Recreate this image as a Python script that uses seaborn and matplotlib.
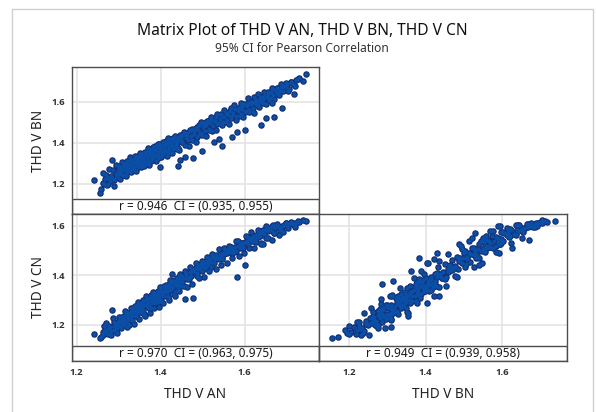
import matplotlib
matplotlib.use("Agg")
import matplotlib.pyplot as plt
import seaborn as sns
import pandas as pd
from matplotlib.patches import Rectangle

AN = [1.242, 1.256, 1.258, 1.262, 1.268, 1.272, 1.275, 1.280, 1.283, 1.285, 1.288, 1.290, 1.293, 1.296, 1.298, 1.300,
      1.302, 1.305, 1.307, 1.309, 1.311, 1.313, 1.315, 1.317, 1.319, 1.321, 1.323, 1.325, 1.327, 1.329, 1.331, 1.333,
      1.335, 1.337, 1.339, 1.341, 1.343, 1.345, 1.347, 1.349, 1.351, 1.353, 1.355, 1.357, 1.359, 1.361,
      1.363, 1.365, 1.367, 1.369, 1.371, 1.373, 1.375, 1.377, 1.379, 1.381, 1.383, 1.385, 1.387, 1.389, 1.391, 1.393,
      1.395, 1.397, 1.399, 1.401, 1.403, 1.405, 1.407, 1.409, 1.411, 1.413, 1.415, 1.417, 1.419, 1.421, 1.423, 1.425,
      1.428, 1.430, 1.432, 1.434, 1.436, 1.438, 1.440, 1.442, 1.444, 1.446, 1.448, 1.450,
      1.452, 1.455, 1.458, 1.460, 1.463, 1.466, 1.469, 1.472, 1.475, 1.478, 1.480, 1.483, 1.486, 1.489, 1.492, 1.495,
      1.498, 1.500, 1.503, 1.506, 1.509, 1.512, 1.515, 1.518, 1.521, 1.524, 1.526, 1.529, 1.532, 1.535, 1.538, 1.541,
      1.544, 1.546, 1.549, 1.552,
      1.555, 1.558, 1.561, 1.564, 1.567, 1.570, 1.573, 1.576, 1.579, 1.582, 1.585, 1.588, 1.591, 1.594, 1.597, 1.600,
      1.602, 1.605, 1.608, 1.611, 1.614, 1.617, 1.620, 1.622, 1.625, 1.628, 1.631, 1.634, 1.637, 1.638, 1.641, 1.644,
      1.647,
      1.650, 1.653, 1.656, 1.659, 1.662, 1.666, 1.668, 1.670, 1.673, 1.676, 1.680, 1.684, 1.688, 1.690, 1.694, 1.698,
      1.702, 1.706, 1.710, 1.714, 1.718, 1.722, 1.728, 1.746,
      1.262, 1.266, 1.270, 1.274, 1.278, 1.282, 1.286, 1.290, 1.294, 1.297,
      1.300, 1.303, 1.306, 1.309, 1.312, 1.315, 1.318, 1.321, 1.324, 1.327,
      1.330, 1.333, 1.336, 1.339, 1.342, 1.345, 1.348, 1.351, 1.354, 1.357,
      1.360, 1.363, 1.366, 1.369, 1.372, 1.375, 1.378, 1.381, 1.384, 1.387,
      1.390, 1.393, 1.396, 1.399, 1.402, 1.405, 1.408, 1.411, 1.414, 1.417,
      1.420, 1.423, 1.426, 1.429, 1.432, 1.435, 1.438, 1.441, 1.444, 1.447,
      1.451, 1.455, 1.459, 1.463, 1.467, 1.471, 1.475, 1.479, 1.483, 1.487,
      1.491, 1.495, 1.499, 1.503, 1.507, 1.511, 1.515, 1.519, 1.523, 1.527,
      1.531, 1.535, 1.539, 1.543, 1.547, 1.551, 1.555, 1.559, 1.563, 1.567,
      1.571, 1.575, 1.579, 1.583, 1.587, 1.591, 1.595, 1.599, 1.603, 1.607,
      1.611, 1.615, 1.619, 1.623, 1.627, 1.631, 1.635, 1.639, 1.643, 1.647,
      1.651, 1.656, 1.661, 1.666, 1.671, 1.676, 1.681, 1.686, 1.692, 1.698,
      1.704, 1.711, 1.720, 1.730, 1.738,
      1.322, 1.328, 1.334, 1.340, 1.346, 1.352, 1.358, 1.364, 1.370, 1.376, 1.382,
      1.388, 1.394, 1.400, 1.406, 1.412, 1.418, 1.424, 1.430, 1.436, 1.442, 1.448]

BN = [1.218, 1.156, 1.172, 1.205, 1.222, 1.196, 1.230, 1.212, 1.240, 1.317, 1.225, 1.190, 1.248, 1.235, 1.262, 1.250,
      1.270, 1.258, 1.282, 1.245, 1.275, 1.292, 1.265, 1.300, 1.255, 1.285, 1.310, 1.275, 1.298, 1.262, 1.318, 1.290,
      1.305, 1.280, 1.325, 1.300, 1.315, 1.290, 1.335, 1.310, 1.322, 1.345, 1.298, 1.330, 1.312, 1.350,
      1.296, 1.340, 1.320, 1.358, 1.335, 1.310, 1.365, 1.342, 1.328, 1.372, 1.350, 1.335, 1.385, 1.360, 1.342, 1.378,
      1.395, 1.355, 1.284, 1.370, 1.388, 1.345, 1.400, 1.365, 1.380, 1.410, 1.358, 1.392, 1.375, 1.405, 1.385, 1.418,
      1.395, 1.372, 1.408, 1.425, 1.390, 1.415, 1.400, 1.287, 1.430, 1.316, 1.412, 1.438,
      1.405, 1.442, 1.332, 1.425, 1.450, 1.415, 1.458, 1.435, 1.468, 1.324, 1.445, 1.475, 1.430, 1.462, 1.485, 1.450,
      1.361, 1.478, 1.495, 1.460, 1.488, 1.505, 1.470, 1.498, 1.515, 1.482, 1.405, 1.508, 1.525, 1.490, 1.421, 1.518,
      1.535, 1.384, 1.500, 1.528,
      1.545, 1.512, 1.538, 1.555, 1.522, 1.430, 1.548, 1.565, 1.530, 1.454, 1.558, 1.575, 1.540, 1.568, 1.585, 1.552,
      1.463, 1.578, 1.595, 1.560, 1.588, 1.602, 1.572, 1.545, 1.598, 1.612, 1.585, 1.605, 1.620, 1.488, 1.598, 1.615,
      1.630,
      1.520, 1.622, 1.640, 1.612, 1.648, 1.593, 1.635, 1.528, 1.660, 1.645, 1.668, 1.655, 1.672, 1.569, 1.680, 1.675,
      1.690, 1.665, 1.700, 1.688, 1.640, 1.705, 1.712, 1.737,
      1.252, 1.201, 1.245, 1.199, 1.273, 1.232, 1.266, 1.220, 1.294, 1.237,
      1.288, 1.225, 1.276, 1.307, 1.244, 1.280, 1.238, 1.311, 1.269, 1.329,
      1.258, 1.311, 1.274, 1.334, 1.262, 1.330, 1.296, 1.351, 1.284, 1.327,
      1.285, 1.355, 1.308, 1.374, 1.290, 1.355, 1.313, 1.379, 1.336, 1.377,
      1.312, 1.395, 1.336, 1.374, 1.330, 1.403, 1.358, 1.399, 1.334, 1.422,
      1.358, 1.393, 1.351, 1.424, 1.377, 1.435, 1.370, 1.419, 1.364, 1.437,
      1.402, 1.452, 1.389, 1.434, 1.383, 1.465, 1.412, 1.459, 1.404, 1.478,
      1.443, 1.502, 1.436, 1.483, 1.433, 1.507, 1.462, 1.526, 1.458, 1.505,
      1.461, 1.539, 1.496, 1.540, 1.487, 1.561, 1.503, 1.547, 1.493, 1.569,
      1.531, 1.585, 1.514, 1.565, 1.532, 1.596, 1.527, 1.591, 1.558, 1.618,
      1.552, 1.601, 1.551, 1.625, 1.588, 1.639, 1.576, 1.623, 1.595, 1.651,
      1.588, 1.651, 1.621, 1.669, 1.616, 1.666, 1.636, 1.686, 1.655, 1.693,
      1.654, 1.696, 1.680, 1.717, 1.703,
      1.282, 1.310, 1.276, 1.308, 1.281, 1.342, 1.313, 1.344, 1.300, 1.348, 1.327,
      1.376, 1.326, 1.365, 1.348, 1.394, 1.350, 1.414, 1.382, 1.408, 1.377, 1.428]

CN = [1.162, 1.146, 1.150, 1.170, 1.178, 1.166, 1.185, 1.190, 1.176, 1.261, 1.195, 1.180, 1.205, 1.188, 1.212, 1.200,
      1.218, 1.208, 1.228, 1.215, 1.200, 1.238, 1.222, 1.245, 1.230, 1.212, 1.250, 1.240, 1.228, 1.252, 1.262, 1.235,
      1.270, 1.245, 1.258, 1.275, 1.250, 1.262, 1.282, 1.268, 1.255, 1.290, 1.272, 1.285, 1.262, 1.295,
      1.280, 1.300, 1.275, 1.288, 1.305, 1.282, 1.298, 1.312, 1.290, 1.318, 1.302, 1.325, 1.310, 1.330, 1.300, 1.322,
      1.338, 1.315, 1.305, 1.342, 1.325, 1.335, 1.352, 1.318, 1.345, 1.360, 1.332, 1.350, 1.365, 1.340, 1.358, 1.370,
      1.406, 1.352, 1.378, 1.365, 1.372, 1.385, 1.362, 1.365, 1.392, 1.378, 1.380, 1.398,
      1.372, 1.388, 1.305, 1.405, 1.385, 1.395, 1.412, 1.398, 1.420, 1.310, 1.415, 1.430, 1.408, 1.440, 1.425, 1.445,
      1.418, 1.438, 1.452, 1.430, 1.458, 1.445, 1.462, 1.470, 1.455, 1.475, 1.452, 1.468, 1.482, 1.472, 1.465, 1.488,
      1.478, 1.470, 1.492, 1.485,
      1.498, 1.490, 1.505, 1.495, 1.510, 1.490, 1.502, 1.515, 1.498, 1.392, 1.520, 1.512, 1.525, 1.532, 1.518, 1.535,
      1.442, 1.540, 1.528, 1.545, 1.552, 1.538, 1.558, 1.540, 1.548, 1.562, 1.555, 1.570, 1.560, 1.525, 1.575, 1.582,
      1.568,
      1.550, 1.585, 1.578, 1.592, 1.585, 1.598, 1.602, 1.570, 1.590, 1.605, 1.595, 1.585, 1.598, 1.580, 1.605, 1.612,
      1.600, 1.608, 1.615, 1.610, 1.605, 1.612, 1.618, 1.621,
      1.161, 1.195, 1.208, 1.162, 1.196, 1.160, 1.228, 1.212, 1.186, 1.168,
      1.233, 1.213, 1.186, 1.234, 1.202, 1.258, 1.248, 1.191, 1.201, 1.244,
      1.270, 1.219, 1.204, 1.275, 1.238, 1.292, 1.225, 1.254, 1.284, 1.301,
      1.245, 1.238, 1.317, 1.295, 1.269, 1.249, 1.321, 1.332, 1.268, 1.290,
      1.317, 1.337, 1.272, 1.354, 1.297, 1.290, 1.358, 1.337, 1.350, 1.316,
      1.302, 1.381, 1.349, 1.378, 1.324, 1.315, 1.391, 1.352, 1.336, 1.407,
      1.391, 1.356, 1.416, 1.355, 1.385, 1.434, 1.365, 1.427, 1.451, 1.396,
      1.388, 1.435, 1.457, 1.393, 1.432, 1.476, 1.417, 1.434, 1.485, 1.472,
      1.426, 1.470, 1.507, 1.443, 1.465, 1.511, 1.497, 1.450, 1.517, 1.513,
      1.469, 1.495, 1.541, 1.540, 1.478, 1.529, 1.511, 1.492, 1.558, 1.556,
      1.510, 1.576, 1.552, 1.511, 1.534, 1.583, 1.579, 1.530, 1.526, 1.582,
      1.599, 1.552, 1.589, 1.545, 1.571, 1.606, 1.564, 1.597, 1.577, 1.611,
      1.592, 1.613, 1.595, 1.617, 1.624,
      1.232, 1.223, 1.258, 1.241, 1.263, 1.280, 1.249, 1.299, 1.281, 1.268, 1.315,
      1.298, 1.292, 1.337, 1.321, 1.356, 1.313, 1.342, 1.375, 1.337, 1.374, 1.356]

var_names = ["THD V AN", "THD V BN", "THD V CN"]
corr_labels = ["r = 0.946  CI = (0.935, 0.955)",
               "r = 0.970  CI = (0.963, 0.975)",
               "r = 0.949  CI = (0.939, 0.958)"]
tick_values = [1.2, 1.4, 1.6]
tick_labels = ["1.2", "1.4", "1.6"]
title = "Matrix Plot of THD V AN, THD V BN, THD V CN"
subtitle = "95% CI for Pearson Correlation"

df = pd.DataFrame({var_names[0]: AN, var_names[1]: BN, var_names[2]: CN})

# ---------------- style ----------------
sns.set_style("white")
plt.rcParams['font.family'] = ['Noto Sans', 'DejaVu Sans']

W, H = 596, 412
fig = plt.figure(figsize=(W / 100, H / 100), dpi=100)
fig.patch.set_facecolor("white")

def fx(px):
    return px / W

def fy(py):
    return 1 - py / H

# outer light frame
fig.patches.append(Rectangle((fx(12), -0.05), fx(593) - fx(12), fy(9) + 0.05,
                             transform=fig.transFigure, fill=False,
                             edgecolor="#cfcfcf", linewidth=1.0, zorder=0))

fig.text(fx(302), fy(31), title, ha="center", va="center", fontsize=11.2, color="#111111")
fig.text(fx(302), fy(48.5), subtitle, ha="center", va="center", fontsize=8.6, color="#333333")

# panels: (x var, y var, left px, right px, top px, bottom px, xlim, ylim, label idx, show x, show y)
panels = [
    (var_names[0], var_names[1], 72, 319, 67, 214, (1.189, 1.777), (1.052, 1.771), 0, False, True),
    (var_names[0], var_names[2], 72, 319, 214, 361, (1.189, 1.777), (1.0545, 1.648), 1, True, True),
    (var_names[1], var_names[2], 319, 567, 214, 361, (1.1218, 1.769), (1.0545, 1.648), 2, True, False),
]

fill_c = "#0a4ea6"
edge_c = "#13296a"
spine_c = "#4d4d4d"
strip_px = 15
tick_font = dict(family=["Open Sans", "DejaVu Sans"], weight="bold", size=6.8)

for xv, yv, l, r, t, b, xlim, ylim, li, showx, showy in panels:
    ax = fig.add_axes([fx(l), fy(b), fx(r) - fx(l), fy(t) - fy(b)])
    ax.set_axisbelow(True)
    # dark rims first, then the blue cores on top (gives a solid cloud with a navy outline)
    sns.scatterplot(data=df, x=xv, y=yv, ax=ax, s=22, color=edge_c,
                    linewidth=0, zorder=2, legend=False)
    sns.scatterplot(data=df, x=xv, y=yv, ax=ax, s=10, color=fill_c,
                    linewidth=0, zorder=3, legend=False)
    ax.set_xlim(*xlim)
    ax.set_ylim(*ylim)
    ax.set_xticks(tick_values)
    ax.set_yticks(tick_values)
    ax.grid(True, color="#e2e2e2", linewidth=1.1)
    for sp in ax.spines.values():
        sp.set_color(spine_c)
        sp.set_linewidth(1.0)
        sp.set_zorder(6)
    sh = strip_px / (b - t)
    ax.add_patch(Rectangle((0, 0), 1, sh, transform=ax.transAxes, facecolor="white",
                           edgecolor=spine_c, linewidth=1.0, zorder=5))
    ax.text(0.5, sh / 2, corr_labels[li], transform=ax.transAxes, ha="center", va="center",
            fontsize=8.5, color="#1a1a1a", zorder=7)
    ax.tick_params(axis="both", direction="out", length=3, width=0.8, color=spine_c,
                   labelcolor="#333333", pad=2)
    if showx:
        ax.set_xticklabels(tick_labels, fontdict=tick_font)
        ax.set_xlabel(xv, fontsize=9.8, color="#222222")
        ax.xaxis.set_label_coords(0.5, -0.175)
    else:
        ax.set_xticklabels([])
        ax.tick_params(axis="x", length=0)
        ax.set_xlabel("")
    if showy:
        ax.set_yticklabels(tick_labels, fontdict=tick_font)
        ax.set_ylabel(yv, fontsize=9.8, color="#222222")
        ax.yaxis.set_label_coords(-0.105, 0.5)
    else:
        ax.set_yticklabels([])
        ax.tick_params(axis="y", length=0)
        ax.set_ylabel("")

fig.savefig("out.png", dpi=100, facecolor="white")
